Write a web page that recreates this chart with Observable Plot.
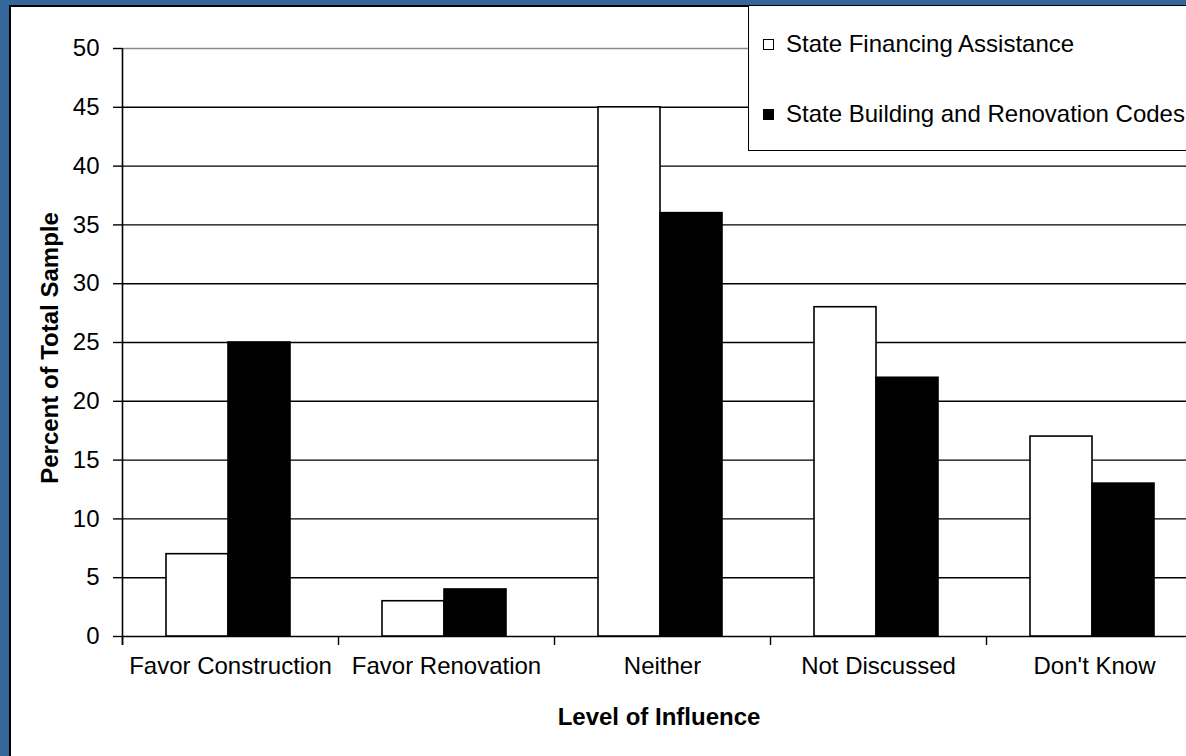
<!DOCTYPE html>
<html>
<head>
<meta charset="utf-8">
<script src="https://cdn.jsdelivr.net/npm/d3@7"></script>
<script src="https://cdn.jsdelivr.net/npm/@observablehq/plot@0.6"></script>
<style>
  html, body { margin: 0; padding: 0; width: 1186px; height: 756px; overflow: hidden; background: #336699; }
  body { position: relative; font-family: "Liberation Sans", Arial, sans-serif; }
  #sheet { position: absolute; left: 9px; top: 5px; width: 1300px; height: 900px; background: #fff;
           border-left: 2px solid #000; border-top: 2px solid #000; }
  #chart { position: absolute; left: 0; top: 0; }
  .lab { position: absolute; font-weight: bold; font-size: 24px; color: #000; white-space: nowrap; }
  #legend { position: absolute; left: 748px; top: 5px; width: 600px; height: 146px; background: #fff;
            border: 1.5px solid #000; box-sizing: border-box; z-index: 2; }
  .item { position: absolute; left: 14px; font-size: 24px; white-space: nowrap; display: flex; align-items: center; }
  .sw { width: 11px; height: 11px; border: 1px solid #000; box-sizing: border-box; margin-right: 12px; }
</style>
</head>
<body>
<div id="sheet"></div>
<div id="chart"></div>
<div id="legend"></div>
<div class="lab" id="ylab" style="left:50px; top:348px; transform: translate(-50%,-50%) rotate(-90deg);">Percent of Total Sample</div>
<div class="lab" id="xlab" style="left:659px; top:717px; transform: translate(-50%,-50%);">Level of Influence</div>
<script>
// ---- data ----
const categories = ["Favor Construction", "Favor Renovation", "Neither", "Not Discussed", "Don't Know"];
const series = ["State Financing Assistance", "State Building and Renovation Codes"];
const financing = [7, 3, 45, 28, 17];
const codes = [25, 4, 36, 22, 13];
const yTicks = [0, 5, 10, 15, 20, 25, 30, 35, 40, 45, 50];
const seriesFill = ["#ffffff", "#000000"];

const rows = [];
categories.forEach((c, i) => {
  rows.push({category: c, series: series[0], value: financing[i]});
  rows.push({category: c, series: series[1], value: codes[i]});
});

const W = 1202, H = 756, ML = 122, MR = 0, MT = 48, MB = 120;
const step = (W - ML - MR) / categories.length;
const yMax = d3.max(yTicks);

const chart = Plot.plot({
  width: W, height: H,
  marginLeft: ML, marginRight: MR, marginTop: MT, marginBottom: MB,
  style: {background: "none", maxWidth: "none", overflow: "visible", fontFamily: "'Liberation Sans', Arial, sans-serif", fontSize: "24px", color: "#000"},
  fx: {domain: categories, padding: 0, axis: null},
  x: {domain: series, paddingInner: 0, paddingOuter: 0.728, align: 0.48, axis: null},
  y: {domain: [0, yMax]},
  color: {domain: series, range: seriesFill},
  marks: [
    Plot.ruleY(yTicks.filter(d => d < yMax), {stroke: "#000", strokeWidth: 1.4}),
    Plot.ruleY([yMax], {stroke: "#8a8a8a", strokeWidth: 1.4}),
    Plot.barY(rows, {fx: "category", x: "series", y: "value", fill: "series", stroke: "#000", strokeWidth: 1.6}),
    // y axis line (left edge of first category)
    Plot.ruleX([categories[0]], {fx: d => d, x: null, y1: yMax, y2: 0, insetBottom: -9, dx: -step / 2, stroke: "#000", strokeWidth: 1.6}),
    // x axis ticks at category boundaries
    Plot.ruleX(categories, {fx: d => d, x: null, y1: 0, y2: 0, insetBottom: -9, dx: -step / 2, stroke: "#000", strokeWidth: 1.4}),
    Plot.axisY({ticks: yTicks, tickSize: 9, tickPadding: 14, fontSize: 24, stroke: "#000", strokeWidth: 1.4, label: null}),
    Plot.text(categories, {fx: d => d, text: d => d, frameAnchor: "bottom", dy: 37, fontSize: 24, fill: "#000"})
  ]
});
document.getElementById("chart").appendChild(chart);

// legend
const legend = document.getElementById("legend");
const rowTops = [39, 109];
series.forEach((s, i) => {
  const it = document.createElement("div");
  it.className = "item";
  it.style.top = (rowTops[i] - 15) + "px";
  const sw = document.createElement("span");
  sw.className = "sw";
  sw.style.background = seriesFill[i];
  it.appendChild(sw);
  const t = document.createElement("span");
  t.textContent = s;
  it.appendChild(t);
  legend.appendChild(it);
});
</script>
</body>
</html>
